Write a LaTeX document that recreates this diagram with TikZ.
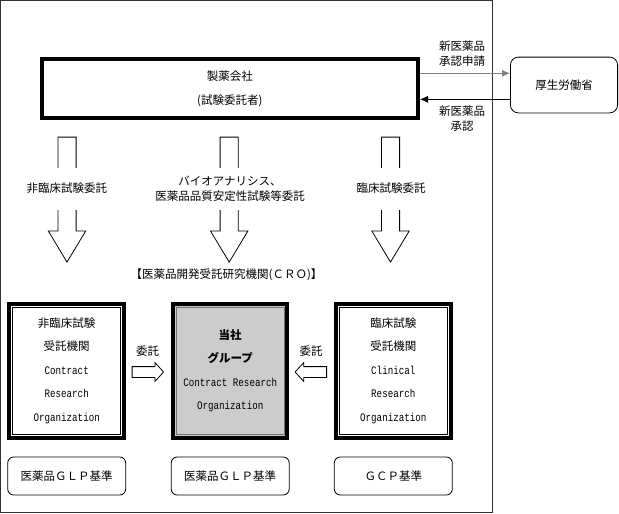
\documentclass[tikz,border=0pt]{standalone}
\usepackage{fontspec}
\setmainfont{Noto Sans CJK JP}
\newfontfamily\crolatin[FakeStretch=0.8]{Liberation Mono}
\usetikzlibrary{shapes.arrows,arrows.meta}

\begin{document}
\begin{tikzpicture}[x=1pt, y=-1pt, font=\fontsize{11.5}{14.5}\selectfont,
  thickbox/.style={rectangle, draw, line width=4pt, minimum width=114.5pt, minimum height=134pt, align=center,
    font=\fontsize{11.5}{23.5}\selectfont,
    path picture={\draw[line width=0.8pt, draw=#1] ([xshift=3.3pt,yshift=-3.3pt]path picture bounding box.north west) rectangle ([xshift=-3.3pt,yshift=3.3pt]path picture bounding box.south east);}},
  thickbox/.default=black,
  rulebox/.style={rectangle, draw, line width=0.8pt, rounded corners=6pt, minimum width=118pt, minimum height=38pt},
  downarrow/.style={single arrow, draw, line width=0.8pt, rotate=-90, anchor=tail, inner xsep=0pt, inner ysep=8.7pt,
    minimum height=125pt, single arrow head extend=9.6pt, single arrow tip angle=62},
  sidearrow/.style={single arrow, draw, line width=0.8pt, anchor=tail, inner xsep=0pt, inner ysep=5pt,
    minimum height=31.5pt, single arrow head extend=4pt, single arrow tip angle=95},
  gaplabel/.style={fill=white, align=center, inner ysep=0pt, minimum height=42pt}]
  \useasboundingbox (0,0) rectangle (619,514);
  \node (frame) [rectangle, draw, black!80, line width=0.8pt, minimum height=511.5pt, minimum width=491.5pt] at (246.5, 256.5) {};

  \node (maker) [rectangle, draw, line width=4pt, minimum height=59pt, minimum width=376.5pt, align=center,
    font=\fontsize{11.5}{24.4}\selectfont] at (229.75, 88.5) {製薬会社\\(試験委託者)};
  \node (mhlw) [rectangle, draw, line width=0.8pt, rounded corners=8pt, minimum height=55.8pt, minimum width=107.2pt] at (564, 85) {厚生労働省};
  \draw[line width=0.8pt, gray, -{Latex[length=8pt, width=7pt]}] ([yshift=15.2pt]maker.east) -- ([yshift=15.2pt]maker.east -| mhlw.west);
  \draw[line width=0.8pt, -{Latex[length=8pt, width=7pt]}] ([yshift=-10.8pt]maker.east -| mhlw.west) -- ([yshift=-10.8pt]maker.east);
  \node (req) [align=center] at (462, 53.5) {新医薬品\\承認申請};
  \node (appr) [align=center] at (462, 118.5) {新医薬品\\承認};

  \node (dL) [downarrow] at (67, 136.7) {};
  \node (dM) [downarrow] at (229.2, 136.7) {};
  \node (dR) [downarrow] at (390.5, 136.7) {};
  \node (lL) [gaplabel] at (67, 188.5) {非臨床試験委託};
  \node (lM) [gaplabel] at (230, 188.7) {バイオアナリシス、\\医薬品品質安定性試験等委託};
  \node (lR) [gaplabel] at (391, 188.5) {臨床試験委託};

  \node (cro) [] at (226.5, 275) {【医薬品開発受託研究機関(ＣＲＯ)】};

  \node (ncro) [thickbox] at (66.7, 370.6) {非臨床試験\\受託機関\\{\crolatin Contract}\\{\crolatin Research}\\{\crolatin Organization}};
  \node (self) [thickbox=black!55, fill=gray!40] at (230.2, 370.6) {\bfseries 当社\\\bfseries グループ\\{\crolatin Contract Research}\\{\crolatin Organization}};
  \node (clin) [thickbox] at (393.3, 370.6) {臨床試験\\受託機関\\{\crolatin Clinical}\\{\crolatin Research}\\{\crolatin Organization}};

  \node (sL) [sidearrow] at (131.7, 372) {};
  \node (sR) [sidearrow, rotate=180] at (327, 372) {};
  \node (kL) [] at (147.5, 351) {委託};
  \node (kR) [] at (311, 351) {委託};

  \node (gL) [rulebox] at (66.7, 476) {医薬品ＧＬＰ基準};
  \node (gM) [rulebox] at (230.2, 476) {医薬品ＧＬＰ基準};
  \node (gR) [rulebox] at (393.3, 476) {ＧＣＰ基準};
\end{tikzpicture}
\end{document}
